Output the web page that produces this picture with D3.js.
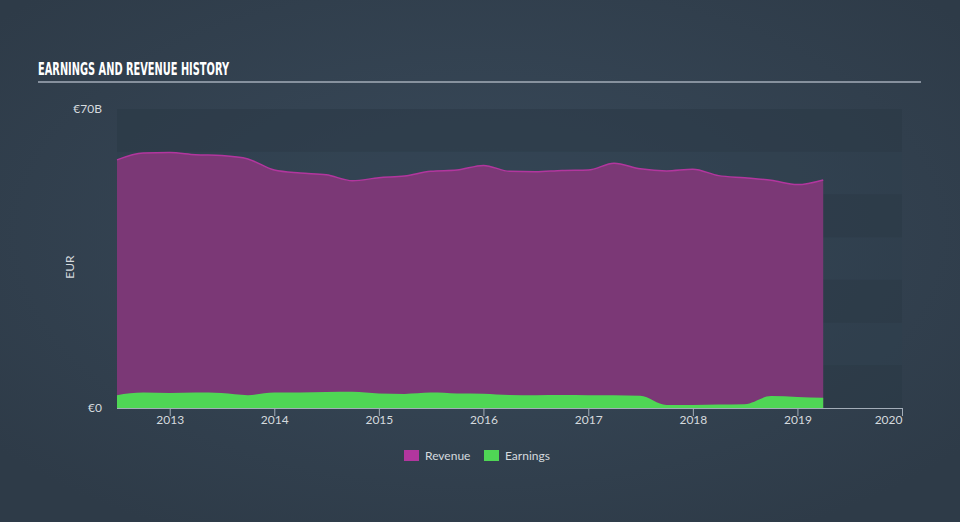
<!DOCTYPE html>
<html>
<head>
<meta charset="utf-8">
<script src="https://cdn.jsdelivr.net/npm/d3@7"></script>
<style>
  html, body { margin: 0; padding: 0; }
  body { width: 960px; height: 522px; overflow: hidden; background: #334250; }
</style>
</head>
<body>
<script>
var width = 960;
var height = 522;

// quarterly points, trailing twelve months (EUR billions)
var dates = ['2012-07-01', '2012-10-01', '2013-01-01', '2013-04-01', '2013-07-01', '2013-10-01',
  '2014-01-01', '2014-04-01', '2014-07-01', '2014-10-01', '2015-01-01', '2015-04-01',
  '2015-07-01', '2015-10-01', '2016-01-01', '2016-04-01', '2016-07-01', '2016-10-01',
  '2017-01-01', '2017-04-01', '2017-07-01', '2017-10-01', '2018-01-01', '2018-04-01',
  '2018-07-01', '2018-10-01', '2019-01-01', '2019-04-01'];
var revenue = [58.1, 59.7, 59.8, 59.3, 59.1, 58.3, 55.7, 55.0, 54.6, 53.2, 53.9, 54.3,
  55.4, 55.7, 56.8, 55.4, 55.3, 55.6, 55.7, 57.3, 56.0, 55.5, 55.9, 54.4,
  53.9, 53.3, 52.3, 53.4];
var earnings = [3.0, 3.6, 3.5, 3.6, 3.5, 3.0, 3.6, 3.6, 3.75, 3.8, 3.4, 3.3,
  3.6, 3.4, 3.35, 3.05, 3.0, 3.05, 3.0, 3.0, 2.85, 0.7, 0.7, 0.8,
  0.9, 2.8, 2.6, 2.4];
var seriesNames = ['Revenue', 'Earnings'];
var yTicks = [0, 70];
var bands = [0, 10, 20, 30, 40, 50, 60];

var parse = d3.timeParse('%Y-%m-%d');
var data = dates.map(function(d, i) {
  return { date: parse(d), revenue: revenue[i], earnings: earnings[i] };
});

var svg = d3.select('body')
  .append('svg')
  .attr('width', width)
  .attr('height', height);

var defs = svg.append('defs');
var grad = defs.append('radialGradient')
  .attr('id', 'bg')
  .attr('cx', '50%').attr('cy', '45%').attr('r', '65%');
grad.append('stop').attr('offset', '0%').attr('stop-color', '#394a5b');
grad.append('stop').attr('offset', '100%').attr('stop-color', '#2e3b48');

svg.append('rect')
  .attr('width', width)
  .attr('height', height)
  .attr('fill', 'url(#bg)');

// title
svg.append('text')
  .attr('x', 38)
  .attr('y', 75)
  .attr('font-family', 'Liberation Sans Narrow, DejaVu Sans Condensed, sans-serif')
  .attr('font-weight', 'bold')
  .attr('font-size', '18px')
  .attr('textLength', 191)
  .attr('lengthAdjust', 'spacingAndGlyphs')
  .attr('fill', '#ffffff')
  .text('EARNINGS AND REVENUE HISTORY');

svg.append('line')
  .attr('x1', 38).attr('x2', 921)
  .attr('y1', 82).attr('y2', 82)
  .attr('stroke', '#a3adb8')
  .attr('stroke-width', 1.5);

var xScale = d3.scaleTime()
  .domain([parse('2012-07-01'), parse('2020-01-01')])
  .range([117, 902]);

var yScale = d3.scaleLinear()
  .domain([0, 70])
  .range([408, 109]);

// background bands
svg.selectAll('rect.band')
  .data(bands)
  .enter()
  .append('rect')
  .attr('class', 'band')
  .attr('x', xScale.range()[0])
  .attr('width', xScale.range()[1] - xScale.range()[0])
  .attr('y', function(d) { return yScale(d + 10); })
  .attr('height', function(d) { return yScale(d) - yScale(d + 10); })
  .attr('fill', function(d, i) { return i % 2 === 0 ? '#2a3845' : '#2f3e4c'; })
  .attr('opacity', function(d, i) { return i % 2 === 0 ? 0.55 : 0.35; });

var revArea = d3.area()
  .x(function(d) { return xScale(d.date); })
  .y0(yScale(0))
  .y1(function(d) { return yScale(d.revenue); })
  .curve(d3.curveMonotoneX);

var revLine = d3.line()
  .x(function(d) { return xScale(d.date); })
  .y(function(d) { return yScale(d.revenue); })
  .curve(d3.curveMonotoneX);

var earnArea = d3.area()
  .x(function(d) { return xScale(d.date); })
  .y0(yScale(0))
  .y1(function(d) { return yScale(d.earnings); })
  .curve(d3.curveMonotoneX);

svg.append('path')
  .datum(data)
  .attr('d', revArea)
  .attr('fill', '#7b3876');

svg.append('path')
  .datum(data)
  .attr('d', revLine)
  .attr('fill', 'none')
  .attr('stroke', '#b2369e')
  .attr('stroke-width', 1.5);

svg.append('path')
  .datum(data)
  .attr('d', earnArea)
  .attr('fill', '#4fd655');

// x axis
var xAxis = d3.axisBottom(xScale)
  .ticks(d3.timeYear.every(1))
  .tickFormat(d3.timeFormat('%Y'))
  .tickSize(8)
  .tickSizeOuter(0);

var gx = svg.append('g')
  .attr('transform', 'translate(0,408)')
  .call(xAxis);

gx.select('.domain').remove();
gx.append('path')
  .attr('d', 'M' + xScale.range()[0] + ',0.5H' + (xScale.range()[1] + 0.5) + 'V8')
  .attr('fill', 'none')
  .attr('stroke', '#a3adb8');
gx.selectAll('.tick line').attr('stroke', '#a3adb8');
gx.selectAll('.tick text')
  .attr('fill', '#d5dade')
  .attr('font-family', 'Lato, sans-serif')
  .attr('font-size', '12px')
  .attr('y', 6)
  .attr('dy', '0.85em')
  .attr('text-anchor', function(d, i, nodes) { return i === nodes.length - 1 ? 'end' : 'middle'; });

// y labels
svg.selectAll('text.ylab')
  .data(yTicks)
  .enter()
  .append('text')
  .attr('class', 'ylab')
  .attr('x', 102)
  .attr('y', function(d) { return yScale(d); })
  .attr('dy', '0.35em')
  .attr('text-anchor', 'end')
  .attr('fill', '#d5dade')
  .attr('font-family', 'Lato, sans-serif')
  .attr('font-size', '12px')
  .text(function(d) { return d === 0 ? '€0' : '€' + d + 'B'; });

svg.append('text')
  .attr('transform', 'translate(74,267) rotate(-90)')
  .attr('text-anchor', 'middle')
  .attr('fill', '#d5dade')
  .attr('font-family', 'Lato, sans-serif')
  .attr('font-size', '12px')
  .text('EUR');

// legend
var legendColors = ['#b2369e', '#4fd655'];
var legendX = [404, 484];
var legend = svg.selectAll('g.legend')
  .data(seriesNames)
  .enter()
  .append('g')
  .attr('class', 'legend')
  .attr('transform', function(d, i) { return 'translate(' + legendX[i] + ',450)'; });

legend.append('rect')
  .attr('width', 15)
  .attr('height', 11)
  .attr('fill', function(d, i) { return legendColors[i]; });

legend.append('text')
  .attr('x', 21)
  .attr('y', 10)
  .attr('fill', '#d5dade')
  .attr('font-family', 'Lato, sans-serif')
  .attr('font-size', '12px')
  .text(function(d) { return d; });
</script>
</body>
</html>
